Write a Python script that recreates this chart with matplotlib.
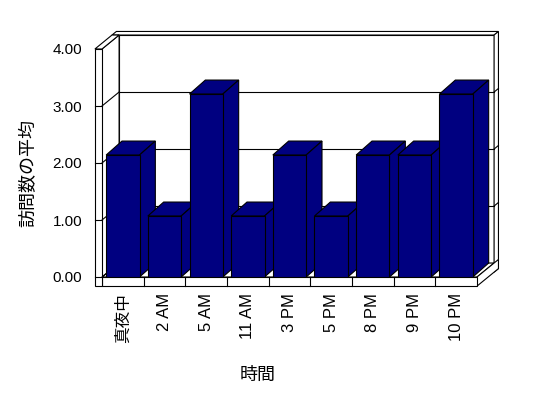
import matplotlib

matplotlib.use("Agg")
import matplotlib.pyplot as plt
from matplotlib.patches import Polygon

plt.rcParams["font.family"] = ["Liberation Sans", "Noto Sans CJK JP", "DejaVu Sans"]

# data
hours = ["真夜中", "2 AM", "5 AM", "11 AM", "3 PM", "5 PM", "8 PM", "9 PM", "10 PM"]
avg_visits = [2.14, 1.07, 3.21, 1.07, 2.14, 1.07, 2.14, 2.14, 3.21]
y_ticks = [0, 1, 2, 3, 4]

NAVY = "#000080"
LW = 0.8

# oblique "3D" look: depth shifts up and to the right (data units)
DX, DY = 0.41, 0.245          # depth of the plot box
TX, TY = 0.105, 0.063         # thickness of back wall
WALL = 0.17                   # thickness of left wall (x units)
FLOOR = 0.16                  # thickness of floor (y units)
BAR_W = 0.8
BAR_DX, BAR_DY = 0.38, 0.245

fig = plt.figure(figsize=(5.48, 3.98), dpi=100)
ax = fig.add_axes([102 / 548, 121 / 398, 375 / 548, 228 / 398])
n = len(hours)
x0, x1 = -0.5, n - 0.5
ymax = y_ticks[-1]
ax.set_xlim(x0, x1)
ax.set_ylim(0, ymax)


def P(x, y, z):
    return (x + z * DX, y + z * DY)


def face(pts, z=1, fc="white"):
    ax.add_patch(Polygon([P(*p) for p in pts], closed=True, facecolor=fc,
                         edgecolor="black", lw=LW, clip_on=False, zorder=z,
                         joinstyle="miter"))


def seg(a, b, z=2):
    (xa, ya), (xb, yb) = P(*a), P(*b)
    ax.plot([xa, xb], [ya, yb], color="black", lw=LW, clip_on=False, zorder=z)


xl = x0 - WALL
zb = 1 + TX / DX
# back wall: inner face, top, right side
face([(x0, 0, 1), (x1, 0, 1), (x1, ymax, 1), (x0, ymax, 1)])
face([(xl, ymax, 1), (x1, ymax, 1), (x1, ymax, zb), (xl, ymax, zb)])
face([(x1, -FLOOR, 1), (x1, -FLOOR, zb), (x1, ymax, zb), (x1, ymax, 1)])
# floor top and right end
face([(x0, 0, 0), (x1, 0, 0), (x1, 0, 1), (x0, 0, 1)])
face([(x1, -FLOOR, 0), (x1, -FLOOR, zb), (x1, 0, zb), (x1, 0, 0)])
# left wall inner face and top
face([(x0, 0, 0), (x0, 0, 1), (x0, ymax, 1), (x0, ymax, 0)])
face([(xl, ymax, 0), (x0, ymax, 0), (x0, ymax, 1), (xl, ymax, 1)])
# front faces of floor and left wall
face([(x0, -FLOOR, 0), (x1, -FLOOR, 0), (x1, 0, 0), (x0, 0, 0)])
face([(xl, -FLOOR, 0), (x0, -FLOOR, 0), (x0, ymax, 0), (xl, ymax, 0)])

# gridlines
for v in y_ticks[:-1]:
    if v > 0:
        seg((x0, v, 1), (x1, v, 1))
        seg((x1, v, 1), (x1, v, zb))
    seg((x0, v, 0), (x0, v, 1))
    seg((xl, v, 0), (x0, v, 0))
for k in range(1, n):
    seg((x0 + k, -FLOOR, 0), (x0 + k, 0, 0))

# bars: front via ax.bar, then top and right side faces
bars = ax.bar(range(n), avg_visits, width=BAR_W, color=NAVY, edgecolor="black",
              lw=LW, zorder=10)
for i, b in enumerate(bars):
    b.set_zorder(11 + 2 * i)
    l, r, h = b.get_x(), b.get_x() + b.get_width(), b.get_height()
    for pts in ([(l, h), (r, h), (r + BAR_DX, h + BAR_DY), (l + BAR_DX, h + BAR_DY)],
                [(r, 0), (r + BAR_DX, BAR_DY), (r + BAR_DX, h + BAR_DY), (r, h)]):
        ax.add_patch(Polygon(pts, closed=True, facecolor=NAVY, edgecolor="black",
                             lw=LW, clip_on=False, zorder=10 + 2 * i,
                             joinstyle="miter"))

for s in ax.spines.values():
    s.set_visible(False)
ax.patch.set_visible(False)
ax.set_yticks(y_ticks, [f"{v:.2f}" for v in y_ticks])
ax.set_xticks(range(n), hours, rotation=90)
ax.tick_params(axis="y", length=0, pad=14.4, labelsize=11)
ax.tick_params(axis="x", length=0, pad=11.5, labelsize=12)

fig.text(28 / 548, 225 / 398, "訪問数の平均", rotation=90, ha="center", va="center",
         fontsize=13, family=["Noto Sans CJK JP"])
fig.text(258 / 548, 23 / 398, "時間", ha="center", va="center", fontsize=13,
         family=["Noto Sans CJK JP"])

fig.savefig("out.png", dpi=100)
